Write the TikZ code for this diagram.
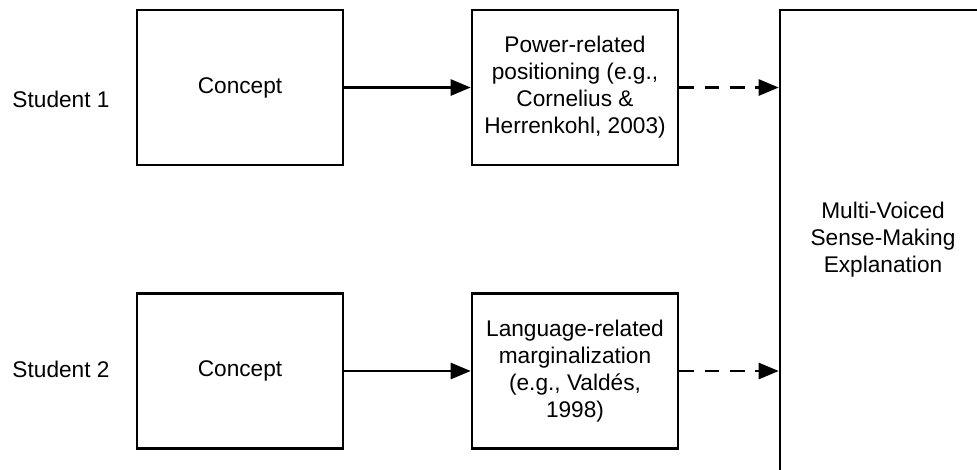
\documentclass[tikz,border=0pt]{standalone}
\usepackage{fontspec}
\setmainfont{Liberation Sans}
\usetikzlibrary{arrows.meta}
\begin{document}
\begin{tikzpicture}[x=0.75pt,y=-0.75pt,
    box/.style={draw,line width=1.9pt,minimum width=154.5pt,minimum height=116.25pt,
      align=center,inner sep=0pt,font=\fontsize{17}{20.3}\selectfont},
    lbl/.style={font=\fontsize{17}{20.3}\selectfont},
    link/.style={line width=1.9pt,-{Triangle[length=15pt,width=12pt]}}]
    \useasboundingbox (0,0) rectangle (977,469);
    \clip (0,0) rectangle (977,469);
    %
    \node[lbl] (s1) at (61,99) {Student 1};
    \node[lbl] (s2) at (61,369) {Student 2};
    %
    \node[box] (c1) at (240,87.5) {Concept};
    \node[box] (c2) at (240,371) {Concept};
    \node[box] (p1) at (575,87.5) {Power-related\\positioning (e.g.,\\Cornelius \&\\Herrenkohl, 2003)};
    \node[box] (p2) at (575,371) {Language-related\\marginalization\\(e.g., Valdés,\\1998)};
    \node[box,minimum height=352.5pt,text depth=0pt] (mv) at (883,245) {};
    \node[font=\fontsize{17}{20.3}\selectfont,align=center] (mvt) at (883,240) {Multi-Voiced\\Sense-Making\\Explanation};
    %
    \draw[link] (c1) -- (p1);
    \draw[link] (c2) -- (p2);
    \draw[link,dash pattern=on 11pt off 8pt] (p1.east) -- (p1.east -| mv.west);
    \draw[link,dash pattern=on 11pt off 8pt] (p2.east) -- (p2.east -| mv.west);
\end{tikzpicture}
\end{document}
